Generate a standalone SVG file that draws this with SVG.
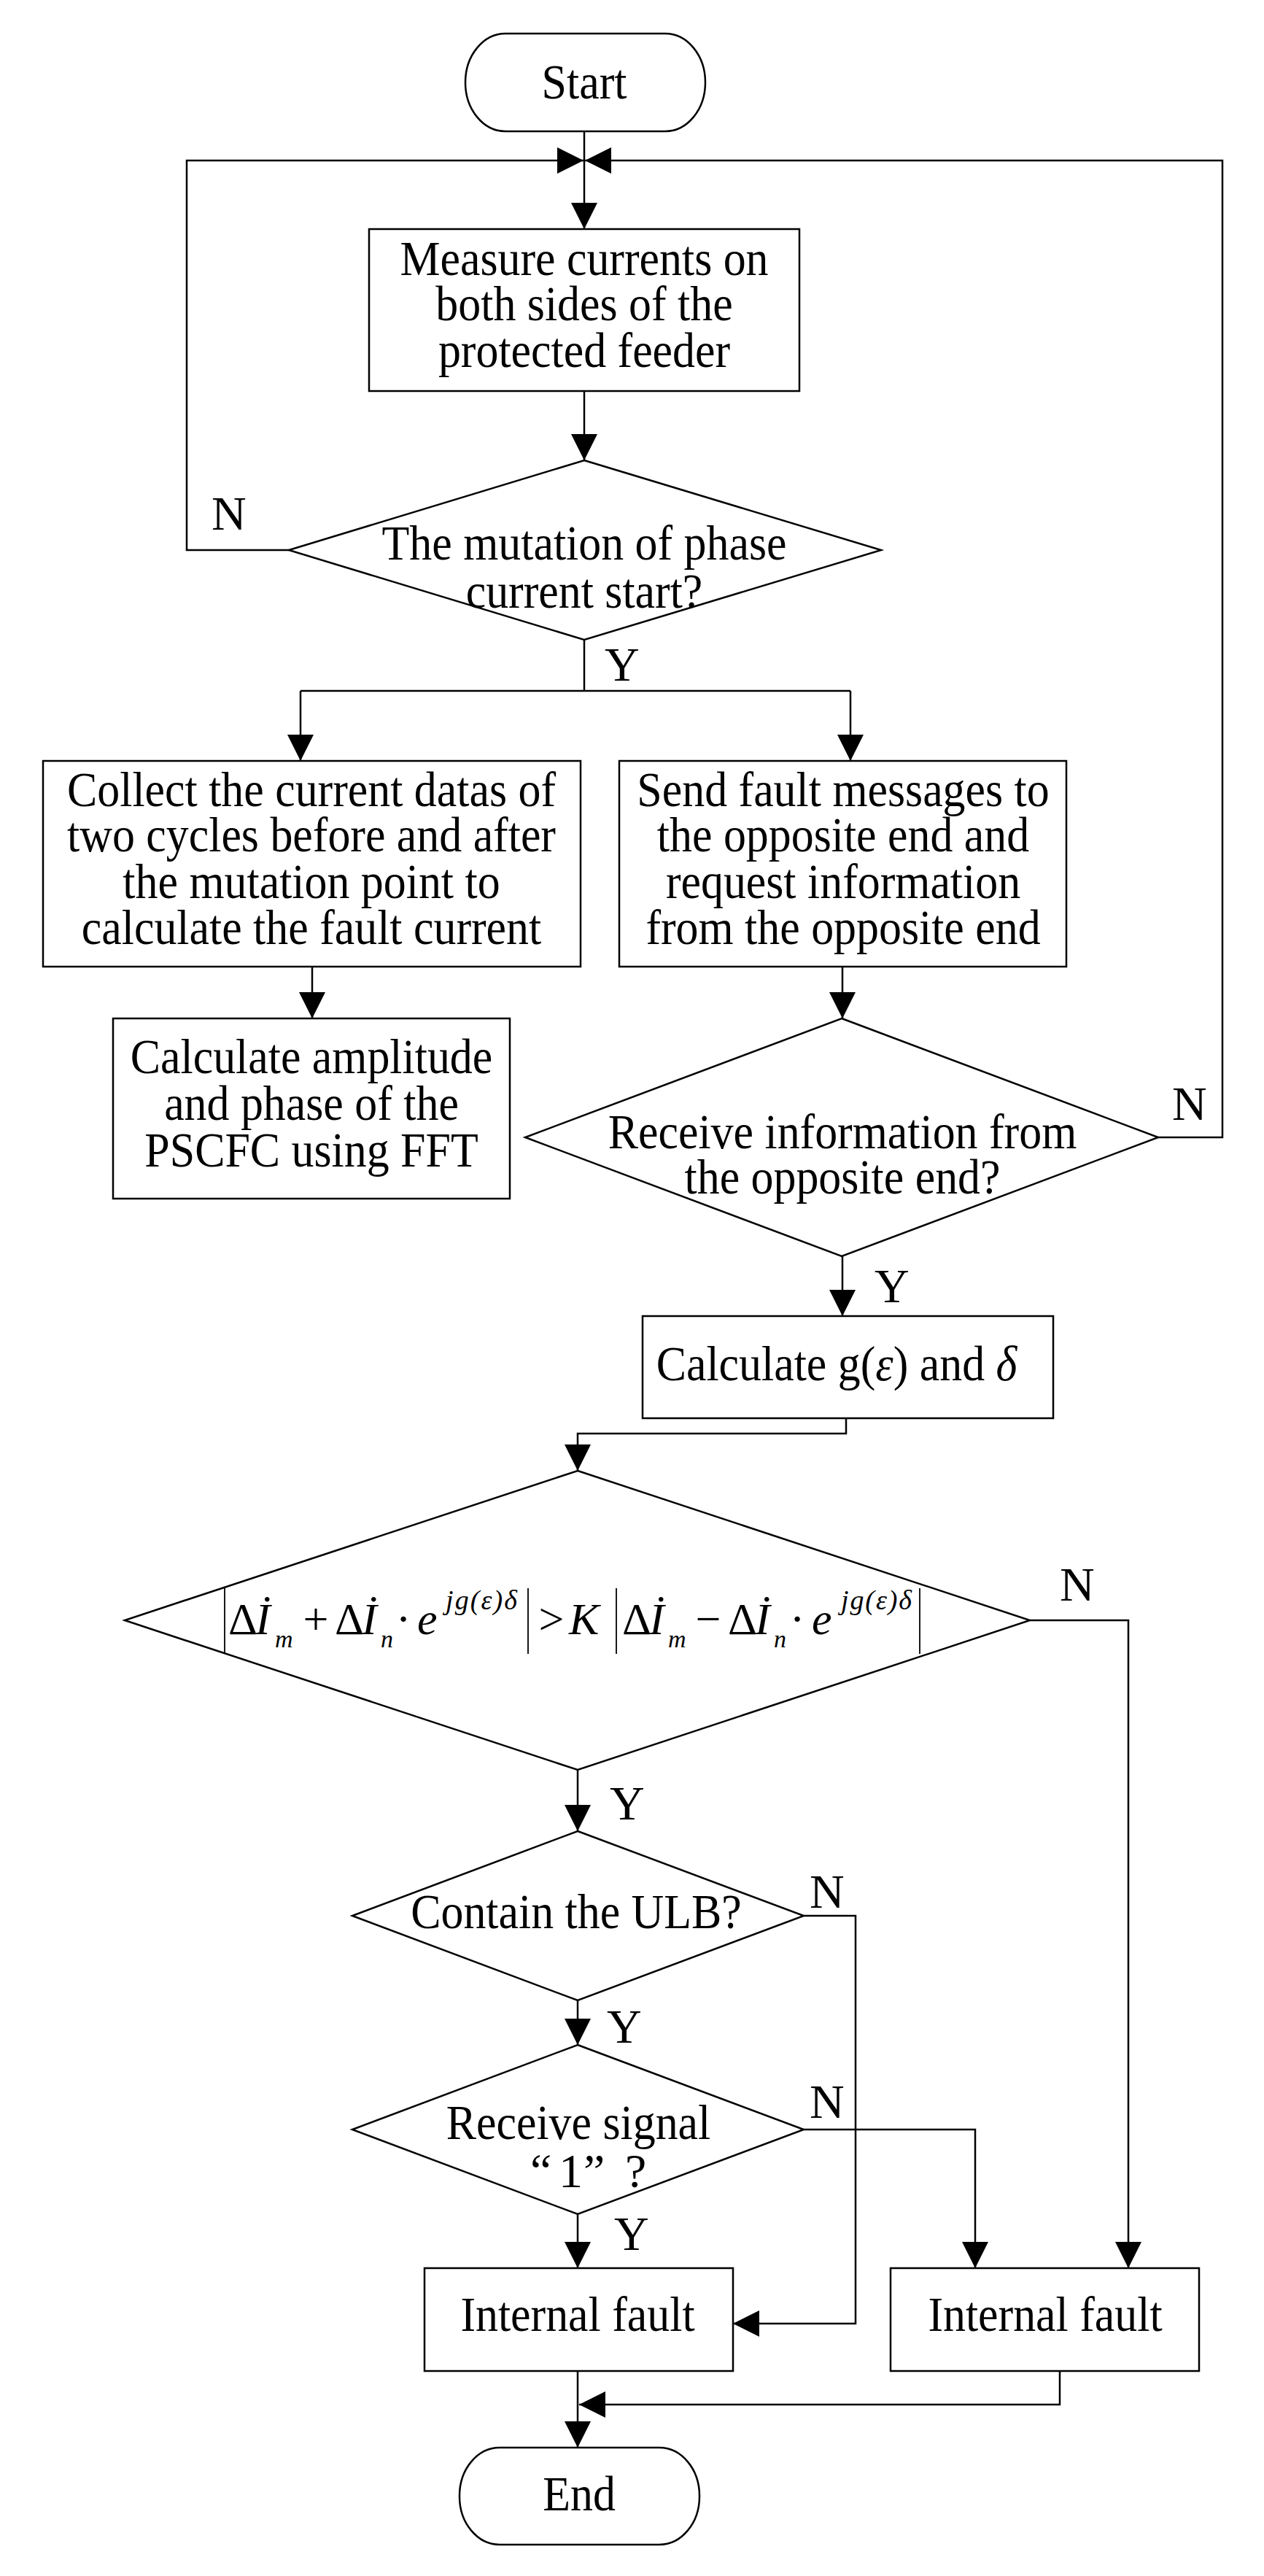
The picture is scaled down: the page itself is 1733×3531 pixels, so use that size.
<svg xmlns="http://www.w3.org/2000/svg" width="1733" height="3531" viewBox="0 0 1733 3531">
<style>
.s{fill:#fff;stroke:#000;stroke-width:2.5}
.c{fill:none;stroke:#000;stroke-width:2.5}
.t{font-family:"Liberation Serif","Times New Roman",serif;font-size:68px;text-anchor:middle;fill:#000}
.l{font-family:"Liberation Serif","Times New Roman",serif;font-size:66px;fill:#000}
.f{font-family:"Liberation Serif","Times New Roman",serif;font-size:62px;fill:#000}
.sb{font-family:"Liberation Serif","Times New Roman",serif;font-size:34px;font-style:italic;fill:#000}
.sp{font-family:"Liberation Serif","Times New Roman",serif;font-size:38px;font-style:italic;fill:#000}
.i{font-style:italic}
.bar{stroke:#000;stroke-width:1.8}
</style>
<defs>
<marker id="a" markerUnits="userSpaceOnUse" markerWidth="36" markerHeight="36" refX="36" refY="18" orient="auto">
<path d="M0,0 L36,18 L0,36 z" fill="#000"/>
</marker>
</defs>
<rect width="1733" height="3531" fill="#fff"/>

<g id="connectors">
<path class="c" d="M801,180 V314" marker-end="url(#a)"/>
<path class="c" d="M396,754 H256 V220 H800" marker-end="url(#a)"/>
<path class="c" d="M1588,1559 H1676 V220 H802" marker-end="url(#a)"/>
<path class="c" d="M801,536 V631" marker-end="url(#a)"/>
<path class="c" d="M801,877 V947"/>
<path class="c" d="M412,947 H1166"/>
<path class="c" d="M412,947 V1043" marker-end="url(#a)"/>
<path class="c" d="M1166,947 V1043" marker-end="url(#a)"/>
<path class="c" d="M428,1325 V1396" marker-end="url(#a)"/>
<path class="c" d="M1155,1325 V1396" marker-end="url(#a)"/>
<path class="c" d="M1155,1722 V1804" marker-end="url(#a)"/>
<path class="c" d="M1160,1944 V1965 H792 V2016" marker-end="url(#a)"/>
<path class="c" d="M1412,2221 H1547 V3109" marker-end="url(#a)"/>
<path class="c" d="M792,2426 V2510" marker-end="url(#a)"/>
<path class="c" d="M1102,2626 H1173 V3185 H1005" marker-end="url(#a)"/>
<path class="c" d="M792,2742 V2803" marker-end="url(#a)"/>
<path class="c" d="M1102,2919 H1337 V3109" marker-end="url(#a)"/>
<path class="c" d="M792,3035 V3109" marker-end="url(#a)"/>
<path class="c" d="M1453,3250 V3296 H794" marker-end="url(#a)"/>
<path class="c" d="M792,3250 V3355" marker-end="url(#a)"/>
<text class="l" x="290" y="726">N</text>
<text class="l" x="829" y="933">Y</text>
<text class="l" x="1607" y="1535">N</text>
<text class="l" x="1199" y="1785">Y</text>
<text class="l" x="1453" y="2194">N</text>
<text class="l" x="836" y="2494">Y</text>
<text class="l" x="1110" y="2615">N</text>
<text class="l" x="832" y="2800">Y</text>
<text class="l" x="1110" y="2903">N</text>
<text class="l" x="842" y="3084">Y</text>
</g>

<g id="start">
<rect class="s" x="638" y="46" width="329" height="134" rx="55" ry="67"/>
<g transform="translate(801 0) scale(0.91 1)"><text class="t" x="0" y="135">Start</text></g>
</g>

<g id="measure">
<rect class="s" x="506" y="314" width="590" height="222"/>
<g transform="translate(801 0) scale(0.91 1)">
<text class="t" x="0" y="377">Measure currents on</text>
<text class="t" x="0" y="439">both sides of the</text>
<text class="t" x="0" y="503">protected feeder</text>
</g>
</g>

<g id="mutation">
<polygon class="s" points="801,631 1208,754 801,877 396,754"/>
<g transform="translate(801 0) scale(0.91 1)">
<text class="t" x="0" y="767">The mutation of phase</text>
<text class="t" x="0" y="833">current start?</text>
</g>
</g>

<g id="collect">
<rect class="s" x="59" y="1043" width="737" height="282"/>
<g transform="translate(427 0) scale(0.91 1)">
<text class="t" x="0" y="1105">Collect the current datas of</text>
<text class="t" x="0" y="1167">two cycles before and after</text>
<text class="t" x="0" y="1231">the mutation point to</text>
<text class="t" x="0" y="1294">calculate the fault current</text>
</g>
</g>

<g id="send">
<rect class="s" x="849" y="1043" width="613" height="282"/>
<g transform="translate(1156 0) scale(0.91 1)">
<text class="t" x="0" y="1105">Send fault messages to</text>
<text class="t" x="0" y="1167">the opposite end and</text>
<text class="t" x="0" y="1231">request information</text>
<text class="t" x="0" y="1294">from the opposite end</text>
</g>
</g>

<g id="pscfc">
<rect class="s" x="155" y="1396" width="544" height="247"/>
<g transform="translate(427 0) scale(0.91 1)">
<text class="t" x="0" y="1471">Calculate amplitude</text>
<text class="t" x="0" y="1535">and phase of the</text>
<text class="t" x="0" y="1599">PSCFC using FFT</text>
</g>
</g>

<g id="receive">
<polygon class="s" points="1154,1396 1588,1559 1154,1722 720,1559"/>
<g transform="translate(1155 0) scale(0.91 1)">
<text class="t" x="0" y="1574">Receive information from</text>
<text class="t" x="0" y="1636">the opposite end?</text>
</g>
</g>

<g id="calc">
<rect class="s" x="881" y="1804" width="563" height="140"/>
<g transform="translate(1147 0) scale(0.91 1)">
<text class="t" x="0" y="1892">Calculate g(<tspan class="i">ε</tspan>) and <tspan class="i">δ</tspan></text>
</g>
</g>

<g id="criterion">
<polygon class="s" points="792,2016 1412,2221 792,2426 171,2221"/>
<line class="bar" x1="308" y1="2177" x2="308" y2="2267"/>
<text class="f" x="313" y="2240">Δ</text>
<text class="f i" x="350" y="2240">İ</text>
<text class="sb" x="377" y="2258">m</text>
<text class="f" x="433" y="2240" text-anchor="middle">+</text>
<text class="f" x="459" y="2240">Δ</text>
<text class="f i" x="496" y="2240">İ</text>
<text class="sb" x="522" y="2258">n</text>
<text class="f" x="553" y="2240" text-anchor="middle">·</text>
<text class="f i" x="572" y="2240">e</text>
<text class="sp" x="611" y="2206" textLength="98" lengthAdjust="spacing">jg(ε)δ</text>
<line class="bar" x1="724" y1="2177" x2="724" y2="2267"/>
<text class="f" x="756" y="2240" text-anchor="middle">&gt;</text>
<text class="f i" x="780" y="2240">K</text>
<line class="bar" x1="845" y1="2177" x2="845" y2="2267"/>
<text class="f" x="853" y="2240">Δ</text>
<text class="f i" x="890" y="2240">İ</text>
<text class="sb" x="916" y="2258">m</text>
<text class="f" x="971" y="2240" text-anchor="middle">−</text>
<text class="f" x="998" y="2240">Δ</text>
<text class="f i" x="1035" y="2240">İ</text>
<text class="sb" x="1061" y="2258">n</text>
<text class="f" x="1093" y="2240" text-anchor="middle">·</text>
<text class="f i" x="1113" y="2240">e</text>
<text class="sp" x="1153" y="2206" textLength="97" lengthAdjust="spacing">jg(ε)δ</text>
<line class="bar" x1="1261" y1="2177" x2="1261" y2="2267"/>
</g>

<g id="ulb">
<polygon class="s" points="792,2510 1102,2626 792,2742 483,2626"/>
<g transform="translate(790 0) scale(0.91 1)">
<text class="t" x="0" y="2643">Contain the ULB?</text>
</g>
</g>

<g id="signal">
<polygon class="s" points="792,2803 1102,2919 792,3035 483,2919"/>
<g transform="translate(793 0) scale(0.91 1)">
<text class="t" x="0" y="2932">Receive signal</text>
</g>
<text class="l" x="727 766 800 857" y="2998">“1”?</text>
</g>

<g id="internal1">
<rect class="s" x="582" y="3109" width="423" height="141"/>
<g transform="translate(792 0) scale(0.91 1)"><text class="t" x="0" y="3195">Internal fault</text></g>
</g>

<g id="internal2">
<rect class="s" x="1221" y="3109" width="423" height="141"/>
<g transform="translate(1433 0) scale(0.91 1)"><text class="t" x="0" y="3195">Internal fault</text></g>
</g>

<g id="end">
<rect class="s" x="630" y="3355" width="329" height="133" rx="55" ry="66"/>
<g transform="translate(794 0) scale(0.91 1)"><text class="t" x="0" y="3441">End</text></g>
</g>
</svg>
